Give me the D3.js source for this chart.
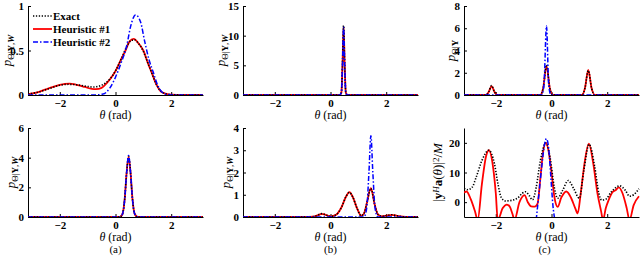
<!DOCTYPE html>
<html>
<head>
<meta charset="utf-8">
<script src="https://cdn.jsdelivr.net/npm/d3@7"></script>
<style>
  body { margin: 0; background: #fff; }
  svg text { font-family: "Liberation Serif", "DejaVu Serif", serif; fill: #000; }
  .tick text { font-size: 11px; font-weight: bold; }
  .axis path, .axis line { stroke: #000; stroke-width: 1; }
</style>
</head>
<body>
<div id="container"></div>
<script>
// data, [theta, value]
var xTicks = [-2, 0, 2];

// (a) top
var a1Exact = [[-3.14,0.01],[-2.8,0.03],[-2.4,0.07],[-2.0,0.11],[-1.7,0.12],[-1.4,0.115],[-1.1,0.1],[-0.8,0.09],[-0.5,0.11],[-0.2,0.18],[0,0.27],[0.2,0.4],[0.4,0.54],[0.55,0.61],[0.68,0.62],[0.85,0.57],[1.0,0.49],[1.15,0.37],[1.3,0.25],[1.45,0.13],[1.6,0.05],[1.8,0.015],[2.0,0.004],[2.4,0],[3.14,0]];
var a1Heur1 = [[-3.14,0.01],[-2.8,0.03],[-2.4,0.075],[-2.0,0.115],[-1.65,0.128],[-1.4,0.115],[-1.1,0.09],[-0.85,0.068],[-0.7,0.065],[-0.5,0.08],[-0.3,0.14],[-0.1,0.22],[0,0.27],[0.2,0.4],[0.36,0.5],[0.5,0.6],[0.65,0.63],[0.85,0.57],[1.0,0.5],[1.15,0.37],[1.3,0.25],[1.45,0.13],[1.6,0.05],[1.8,0.015],[2.0,0.003],[2.4,0],[3.14,0]];
var a1Heur2 = [[-3.14,0],[-0.8,0],[-0.45,0.01],[-0.2,0.08],[0,0.2],[0.2,0.36],[0.4,0.55],[0.55,0.78],[0.72,0.9],[0.9,0.82],[1.05,0.6],[1.2,0.4],[1.35,0.26],[1.5,0.12],[1.65,0.04],[1.85,0.005],[2.1,0],[3.14,0]];
// (b) top
var b1Exact = [[-3.14,0],[0.33,0],[0.39,0.4],[0.43,5],[0.47,11.7],[0.51,5],[0.55,0.4],[0.61,0],[3.14,0]];
var b1Heur1 = [[-3.14,0],[0.33,0],[0.39,0.4],[0.43,5],[0.47,11.5],[0.51,5],[0.55,0.4],[0.61,0],[3.14,0]];
var b1Heur2 = [[-3.14,0],[0.33,0],[0.39,0.4],[0.43,5],[0.47,11.4],[0.51,5],[0.55,0.4],[0.61,0],[3.14,0]];
// (c) top
var c1Exact = [[-3.14,0],[-2.35,0],[-2.25,0.3],[-2.15,0.85],[-2.05,0.3],[-1.95,0],[-0.4,0],[-0.3,0.6],[-0.18,2.7],[-0.06,0.6],[0.05,0],[1.1,0],[1.2,0.6],[1.32,2.2],[1.44,0.6],[1.55,0],[3.14,0]];
var c1Heur1 = [[-3.14,0],[-2.35,0],[-2.25,0.3],[-2.15,0.8],[-2.05,0.3],[-1.95,0],[-0.4,0],[-0.3,0.6],[-0.18,2.6],[-0.06,0.6],[0.05,0],[1.1,0],[1.2,0.6],[1.32,2.25],[1.44,0.6],[1.55,0],[3.14,0]];
var c1Heur2 = [[-3.14,0],[-0.35,0],[-0.27,0.9],[-0.18,6.2],[-0.1,0.9],[-0.02,0],[3.14,0]];
// (a) bottom
var a2Exact = [[-3.14,0],[0.15,0],[0.25,0.2],[0.33,1.2],[0.4,3],[0.47,4.1],[0.54,3],[0.61,1.2],[0.69,0.2],[0.8,0],[3.14,0]];
var a2Heur1 = [[-3.14,0],[0.15,0],[0.25,0.2],[0.33,1.2],[0.4,3],[0.47,4.05],[0.54,3],[0.61,1.2],[0.69,0.2],[0.8,0],[3.14,0]];
var a2Heur2 = [[-3.14,0],[0.15,0],[0.25,0.2],[0.33,1.2],[0.4,3],[0.47,4.15],[0.54,3],[0.61,1.2],[0.69,0.2],[0.8,0],[3.14,0]];
// (b) bottom
var b2Exact = [[-3.14,0],[-1.0,0],[-0.6,0.02],[-0.45,0.08],[-0.32,0.15],[-0.18,0.1],[0,0.03],[0.2,0.1],[0.4,0.45],[0.55,0.9],[0.68,1.1],[0.8,0.9],[0.95,0.4],[1.1,0.06],[1.2,0.15],[1.3,0.6],[1.45,1.28],[1.58,0.6],[1.7,0.12],[1.85,0.03],[2.0,0.06],[2.2,0.1],[2.4,0.05],[2.7,0],[3.14,0]];
var b2Heur1 = [[-3.14,0],[-1.0,0],[-0.6,0.02],[-0.45,0.08],[-0.32,0.14],[-0.18,0.1],[0,0.03],[0.2,0.1],[0.4,0.45],[0.55,0.9],[0.68,1.12],[0.8,0.9],[0.95,0.4],[1.1,0.06],[1.2,0.15],[1.3,0.6],[1.45,1.3],[1.58,0.6],[1.7,0.12],[1.85,0.03],[2.0,0.06],[2.2,0.1],[2.4,0.05],[2.7,0],[3.14,0]];
var b2Heur2 = [[-3.14,0],[1.2,0],[1.3,0.4],[1.38,2],[1.45,3.65],[1.52,2],[1.6,0.4],[1.7,0],[3.14,0]];
// (c) bottom
var c2Exact = [[-3.14,4.6],[-3.0,4.2],[-2.85,5],[-2.7,8.5],[-2.5,14],[-2.25,17.5],[-2.05,13],[-1.92,6],[-1.8,1.5],[-1.65,0.4],[-1.5,0.5],[-1.35,0.8],[-1.2,1.5],[-1.05,3],[-0.93,3.5],[-0.8,2.2],[-0.68,0.8],[-0.55,5],[-0.4,14],[-0.2,20],[-0.05,15],[0.1,5],[0.22,1.3],[0.4,4],[0.6,7.3],[0.8,4.5],[1.0,1.3],[1.15,10],[1.35,19.5],[1.55,12],[1.7,3],[1.8,0.7],[1.95,1],[2.15,3.5],[2.45,5.5],[2.65,4],[2.8,2],[2.95,2.5],[3.14,4.5]];
var c2Heur1 = [[-3.14,3.2],[-3.05,3.6],[-2.9,1],[-2.75,-3],[-2.65,-6],[-2.5,6],[-2.35,15.5],[-2.25,17.5],[-2.1,12],[-2.0,3],[-1.93,-6],[-1.75,-2],[-1.6,-0.8],[-1.5,-1.5],[-1.4,-4],[-1.33,-6],[-1.15,0],[-0.97,2.4],[-0.85,0],[-0.73,-1.4],[-0.6,-1.5],[-0.5,-0.5],[-0.4,8],[-0.3,17],[-0.2,20],[-0.1,17],[0,10],[0.1,2],[0.22,-1.6],[0.35,1.5],[0.53,3.6],[0.7,1.5],[0.85,-2],[0.94,-3.8],[1.05,3],[1.2,14],[1.34,19.7],[1.5,13],[1.65,3],[1.78,-3],[1.85,-6],[1.95,-2],[2.05,0.7],[2.2,3.5],[2.3,4],[2.42,5],[2.55,3],[2.7,-2],[2.8,-6],[2.95,-1],[3.14,2]];
var c2Heur2 = [[-0.55,-6],[-0.45,3],[-0.35,12],[-0.25,19.5],[-0.18,21.4],[-0.1,18],[-0.02,8],[0.05,-1],[0.12,-6]];

var legendNames = ["Exact", "Heuristic #1", "Heuristic #2"];

var width = 640, height = 256;
var svg = d3.select("#container").append("svg")
  .attr("width", width)
  .attr("height", height);

var cols = [{x0: 28, x1: 203}, {x0: 243, x1: 421}, {x0: 464, x1: 640}];
var rows = [{y0: 6, y1: 95}, {y0: 128, y1: 217}];

var styles = [
  {stroke: "#000", width: 1.6, dash: "1.3,1.6"},      // Exact
  {stroke: "#ff0000", width: 1.8, dash: null},       // Heuristic #1
  {stroke: "#0000ff", width: 1.5, dash: "5,2,1.5,2"} // Heuristic #2
];

// y label segments: [text, italic, bold, shift]
var labPW = [["p",1,0,0],["Θ|",0,0,1],["Y",0,1,1],[",",0,0,1],["W",1,1,1]];
var labP = [["p",1,0,0],["Θ|",0,0,1],["Y",0,1,1]];
var labSpec = [["|",0,0,0],["y",0,1,0],["H",1,0,-1],["a",0,1,0],["(",0,0,0],["θ",1,0,0],[")|",0,0,0],["2",0,0,-1],["/",0,0,0],["M",1,0,0]];

var panels = [
  {c: 0, r: 0, dom: [0, 1], ticks: [0, 0.5, 1], series: [a1Exact, a1Heur1, a1Heur2], lab: labPW, lx: 11},
  {c: 1, r: 0, dom: [0, 15], ticks: [0, 5, 10, 15], series: [b1Exact, b1Heur1, b1Heur2], lab: labPW, lx: 225},
  {c: 2, r: 0, dom: [0, 8], ticks: [0, 2, 4, 6, 8], series: [c1Exact, c1Heur1, c1Heur2], lab: labP, lx: 455},
  {c: 0, r: 1, dom: [0, 6], ticks: [0, 2, 4, 6], series: [a2Exact, a2Heur1, a2Heur2], lab: labPW, lx: 15, sub: "(a)"},
  {c: 1, r: 1, dom: [0, 4], ticks: [0, 1, 2, 3, 4], series: [b2Exact, b2Heur1, b2Heur2], lab: labPW, lx: 230, sub: "(b)"},
  {c: 2, r: 1, dom: [-5, 25], ticks: [0, 10, 20], series: [c2Exact, c2Heur1, c2Heur2], lab: labSpec, lx: 442, sub: "(c)"}
];

panels.forEach(function(p, i) {
  var col = cols[p.c], row = rows[p.r];
  var x = d3.scaleLinear().domain([-Math.PI, Math.PI]).range([col.x0, col.x0 + 2 * 87.5]);
  var y = d3.scaleLinear().domain(p.dom).range([row.y1, row.y0]);

  var g = svg.append("g");

  svg.append("clipPath").attr("id", "clip" + i)
    .append("rect")
    .attr("x", col.x0).attr("y", row.y0 - 2)
    .attr("width", col.x1 - col.x0).attr("height", row.y1 - row.y0 + 2);

  g.append("g")
    .attr("class", "axis")
    .attr("transform", "translate(0," + row.y1 + ")")
    .call(d3.axisBottom(x).tickValues(xTicks).tickFormat(d3.format("~g"))
      .tickSizeInner(-3).tickSizeOuter(0).tickPadding(4));

  g.append("g")
    .attr("class", "axis")
    .attr("transform", "translate(" + col.x0 + ",0)")
    .call(d3.axisLeft(y).tickValues(p.ticks).tickFormat(d3.format("~g"))
      .tickSizeInner(-3).tickSizeOuter(0).tickPadding(4));

  var line = d3.line()
    .x(function(d) { return x(d[0]); })
    .y(function(d) { return y(d[1]); })
    .curve(d3.curveMonotoneX);

  var lines = g.append("g").attr("clip-path", "url(#clip" + i + ")");
  [1, 0, 2].forEach(function(k) {
    lines.append("path")
      .attr("d", line(p.series[k]))
      .attr("fill", "none")
      .attr("stroke", styles[k].stroke)
      .attr("stroke-width", styles[k].width)
      .attr("stroke-dasharray", styles[k].dash);
  });

  // x label
  var xl = g.append("text")
    .attr("x", x(0))
    .attr("y", row.y1 + 24)
    .attr("text-anchor", "middle")
    .style("font-size", "12px");
  xl.append("tspan").attr("font-style", "italic").text("θ");
  xl.append("tspan").text(" (rad)");

  if (p.sub) {
    g.append("text")
      .attr("x", x(0) - (p.c == 2 ? 7 : 0))
      .attr("y", 253)
      .attr("text-anchor", "middle")
      .style("font-size", "11px")
      .text(p.sub);
  }

  // y label, rotated
  var cy = (row.y0 + row.y1) / 2;
  var yl = g.append("text")
    .attr("transform", "translate(" + p.lx + "," + cy + ") rotate(-90)")
    .attr("text-anchor", "middle")
    .style("font-size", "13px");
  var cur = 0;
  p.lab.forEach(function(s) {
    var off = s[3] * 3;
    var ts = yl.append("tspan")
      .attr("dy", off - cur)
      .style("font-size", s[3] ? "9px" : "13px")
      .text(s[0]);
    if (s[1]) ts.attr("font-style", "italic");
    if (s[2]) ts.attr("font-weight", "bold");
    cur = off;
  });
});

// legend in the first panel
var legend = svg.append("g");
legendNames.forEach(function(name, k) {
  var ly = 16 + k * 13;
  legend.append("line")
    .attr("x1", 33).attr("x2", 52)
    .attr("y1", ly).attr("y2", ly)
    .attr("stroke", styles[k].stroke)
    .attr("stroke-width", styles[k].width)
    .attr("stroke-dasharray", styles[k].dash);
  legend.append("text")
    .attr("x", 53).attr("y", ly + 4)
    .style("font-size", "11px")
    .style("font-weight", "bold")
    .text(name);
});
</script>
</body>
</html>
